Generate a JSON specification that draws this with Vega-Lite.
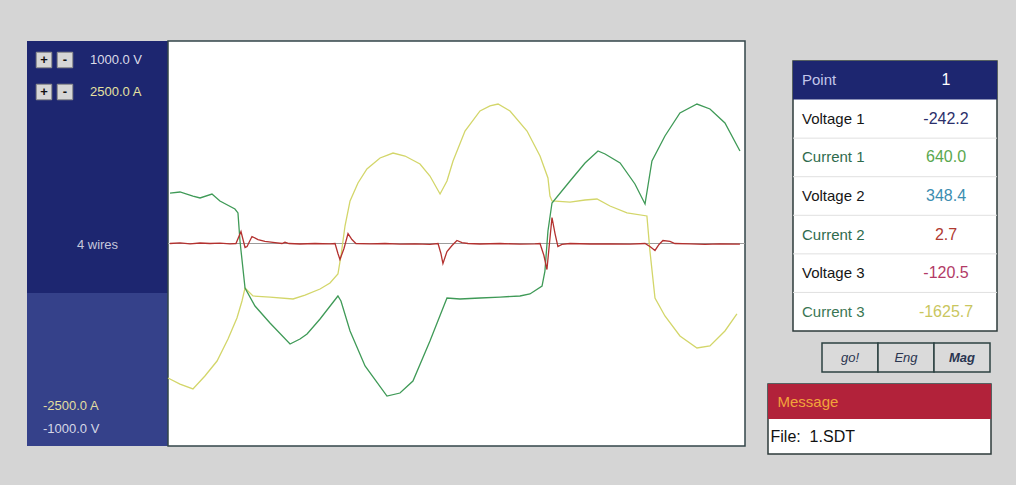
{
  "$schema": "https://vega.github.io/schema/vega-lite/v6.json",
  "background": "#d5d5d5",
  "padding": {"left": 27, "top": 40, "right": 19, "bottom": 32},
  "config": {"view": {"stroke": null}, "font": "Liberation Sans", "text": {"font": "Liberation Sans"}},
  "datasets": {
    "waves": [
      {"t": 0.0, "series": "Current 3", "amps": -1661},
      {"t": 0.83, "series": "Current 3", "amps": -1735},
      {"t": 1.73, "series": "Current 3", "amps": -1796},
      {"t": 2.56, "series": "Current 3", "amps": -1636},
      {"t": 3.40, "series": "Current 3", "amps": -1451},
      {"t": 4.16, "series": "Current 3", "amps": -1179},
      {"t": 4.78, "series": "Current 3", "amps": -920},
      {"t": 5.13, "series": "Current 3", "amps": -710},
      {"t": 5.34, "series": "Current 3", "amps": -549},
      {"t": 5.89, "series": "Current 3", "amps": -648},
      {"t": 7.07, "series": "Current 3", "amps": -661},
      {"t": 8.67, "series": "Current 3", "amps": -685},
      {"t": 9.50, "series": "Current 3", "amps": -636},
      {"t": 10.54, "series": "Current 3", "amps": -562},
      {"t": 11.23, "series": "Current 3", "amps": -488},
      {"t": 11.78, "series": "Current 3", "amps": -377},
      {"t": 11.99, "series": "Current 3", "amps": -154},
      {"t": 12.27, "series": "Current 3", "amps": 216},
      {"t": 12.62, "series": "Current 3", "amps": 525},
      {"t": 13.17, "series": "Current 3", "amps": 747},
      {"t": 13.79, "series": "Current 3", "amps": 920},
      {"t": 14.70, "series": "Current 3", "amps": 1056},
      {"t": 15.60, "series": "Current 3", "amps": 1117},
      {"t": 16.43, "series": "Current 3", "amps": 1080},
      {"t": 17.47, "series": "Current 3", "amps": 981},
      {"t": 18.16, "series": "Current 3", "amps": 833},
      {"t": 18.86, "series": "Current 3", "amps": 611},
      {"t": 19.34, "series": "Current 3", "amps": 772},
      {"t": 19.76, "series": "Current 3", "amps": 1019},
      {"t": 20.59, "series": "Current 3", "amps": 1389},
      {"t": 21.63, "series": "Current 3", "amps": 1636},
      {"t": 22.32, "series": "Current 3", "amps": 1698},
      {"t": 22.88, "series": "Current 3", "amps": 1722},
      {"t": 23.71, "series": "Current 3", "amps": 1636},
      {"t": 24.89, "series": "Current 3", "amps": 1389},
      {"t": 25.79, "series": "Current 3", "amps": 1080},
      {"t": 26.34, "series": "Current 3", "amps": 809},
      {"t": 26.48, "series": "Current 3", "amps": 586},
      {"t": 26.62, "series": "Current 3", "amps": 525},
      {"t": 27.87, "series": "Current 3", "amps": 512},
      {"t": 28.91, "series": "Current 3", "amps": 537},
      {"t": 29.74, "series": "Current 3", "amps": 549},
      {"t": 30.64, "series": "Current 3", "amps": 463},
      {"t": 31.82, "series": "Current 3", "amps": 377},
      {"t": 33.20, "series": "Current 3", "amps": 340},
      {"t": 33.41, "series": "Current 3", "amps": -93},
      {"t": 33.76, "series": "Current 3", "amps": -673},
      {"t": 34.45, "series": "Current 3", "amps": -895},
      {"t": 35.49, "series": "Current 3", "amps": -1142},
      {"t": 36.67, "series": "Current 3", "amps": -1290},
      {"t": 37.57, "series": "Current 3", "amps": -1265},
      {"t": 38.61, "series": "Current 3", "amps": -1080},
      {"t": 39.44, "series": "Current 3", "amps": -870},

      {"t": 0.14, "series": "Current 1", "amps": 623},
      {"t": 0.83, "series": "Current 1", "amps": 636},
      {"t": 1.73, "series": "Current 1", "amps": 586},
      {"t": 2.22, "series": "Current 1", "amps": 562},
      {"t": 3.05, "series": "Current 1", "amps": 611},
      {"t": 3.60, "series": "Current 1", "amps": 525},
      {"t": 4.64, "series": "Current 1", "amps": 426},
      {"t": 4.85, "series": "Current 1", "amps": 377},
      {"t": 4.99, "series": "Current 1", "amps": 31},
      {"t": 5.34, "series": "Current 1", "amps": -549},
      {"t": 6.03, "series": "Current 1", "amps": -772},
      {"t": 7.07, "series": "Current 1", "amps": -981},
      {"t": 8.46, "series": "Current 1", "amps": -1241},
      {"t": 9.15, "series": "Current 1", "amps": -1179},
      {"t": 9.64, "series": "Current 1", "amps": -1117},
      {"t": 10.54, "series": "Current 1", "amps": -932},
      {"t": 11.78, "series": "Current 1", "amps": -648},
      {"t": 11.99, "series": "Current 1", "amps": -710},
      {"t": 12.62, "series": "Current 1", "amps": -1080},
      {"t": 13.66, "series": "Current 1", "amps": -1512},
      {"t": 15.18, "series": "Current 1", "amps": -1883},
      {"t": 16.08, "series": "Current 1", "amps": -1846},
      {"t": 16.98, "series": "Current 1", "amps": -1698},
      {"t": 18.16, "series": "Current 1", "amps": -1204},
      {"t": 19.34, "series": "Current 1", "amps": -673},
      {"t": 20.24, "series": "Current 1", "amps": -685},
      {"t": 21.63, "series": "Current 1", "amps": -673},
      {"t": 23.02, "series": "Current 1", "amps": -661},
      {"t": 24.40, "series": "Current 1", "amps": -648},
      {"t": 25.09, "series": "Current 1", "amps": -623},
      {"t": 25.93, "series": "Current 1", "amps": -525},
      {"t": 26.13, "series": "Current 1", "amps": -340},
      {"t": 26.34, "series": "Current 1", "amps": 154},
      {"t": 26.62, "series": "Current 1", "amps": 500},
      {"t": 27.87, "series": "Current 1", "amps": 772},
      {"t": 28.91, "series": "Current 1", "amps": 994},
      {"t": 29.81, "series": "Current 1", "amps": 1142},
      {"t": 30.30, "series": "Current 1", "amps": 1105},
      {"t": 31.34, "series": "Current 1", "amps": 994},
      {"t": 32.37, "series": "Current 1", "amps": 735},
      {"t": 33.07, "series": "Current 1", "amps": 488},
      {"t": 33.27, "series": "Current 1", "amps": 710},
      {"t": 33.55, "series": "Current 1", "amps": 1019},
      {"t": 34.45, "series": "Current 1", "amps": 1327},
      {"t": 35.49, "series": "Current 1", "amps": 1611},
      {"t": 36.67, "series": "Current 1", "amps": 1722},
      {"t": 37.57, "series": "Current 1", "amps": 1661},
      {"t": 38.61, "series": "Current 1", "amps": 1488},
      {"t": 39.65, "series": "Current 1", "amps": 1142},

      {"t": 0.14, "series": "Current 2", "amps": 0},
      {"t": 0.83, "series": "Current 2", "amps": 8},
      {"t": 1.53, "series": "Current 2", "amps": -5},
      {"t": 2.22, "series": "Current 2", "amps": 6},
      {"t": 2.91, "series": "Current 2", "amps": 0},
      {"t": 3.60, "series": "Current 2", "amps": 5},
      {"t": 4.30, "series": "Current 2", "amps": -4},
      {"t": 4.71, "series": "Current 2", "amps": 0},
      {"t": 5.06, "series": "Current 2", "amps": 148},
      {"t": 5.34, "series": "Current 2", "amps": -49},
      {"t": 5.48, "series": "Current 2", "amps": -37},
      {"t": 5.82, "series": "Current 2", "amps": 86},
      {"t": 6.24, "series": "Current 2", "amps": 49},
      {"t": 6.72, "series": "Current 2", "amps": 25},
      {"t": 7.42, "series": "Current 2", "amps": 12},
      {"t": 7.90, "series": "Current 2", "amps": 0},
      {"t": 8.11, "series": "Current 2", "amps": 15},
      {"t": 8.39, "series": "Current 2", "amps": 0},
      {"t": 9.15, "series": "Current 2", "amps": -6},
      {"t": 10.19, "series": "Current 2", "amps": 0},
      {"t": 11.23, "series": "Current 2", "amps": -5},
      {"t": 11.58, "series": "Current 2", "amps": 0},
      {"t": 11.78, "series": "Current 2", "amps": -123},
      {"t": 11.92, "series": "Current 2", "amps": -198},
      {"t": 12.20, "series": "Current 2", "amps": -62},
      {"t": 12.48, "series": "Current 2", "amps": 123},
      {"t": 12.75, "series": "Current 2", "amps": 49},
      {"t": 13.03, "series": "Current 2", "amps": 0},
      {"t": 14.00, "series": "Current 2", "amps": -5},
      {"t": 15.04, "series": "Current 2", "amps": 0},
      {"t": 16.08, "series": "Current 2", "amps": -8},
      {"t": 17.12, "series": "Current 2", "amps": -4},
      {"t": 18.16, "series": "Current 2", "amps": -10},
      {"t": 18.72, "series": "Current 2", "amps": 0},
      {"t": 18.92, "series": "Current 2", "amps": -123},
      {"t": 19.06, "series": "Current 2", "amps": -247},
      {"t": 19.34, "series": "Current 2", "amps": -99},
      {"t": 19.69, "series": "Current 2", "amps": -25},
      {"t": 20.03, "series": "Current 2", "amps": 37},
      {"t": 20.38, "series": "Current 2", "amps": 12},
      {"t": 20.80, "series": "Current 2", "amps": 0},
      {"t": 21.63, "series": "Current 2", "amps": -6},
      {"t": 23.02, "series": "Current 2", "amps": 0},
      {"t": 24.40, "series": "Current 2", "amps": -8},
      {"t": 25.44, "series": "Current 2", "amps": -4},
      {"t": 25.79, "series": "Current 2", "amps": 0},
      {"t": 26.06, "series": "Current 2", "amps": -148},
      {"t": 26.27, "series": "Current 2", "amps": -321},
      {"t": 26.41, "series": "Current 2", "amps": -62},
      {"t": 26.62, "series": "Current 2", "amps": 321},
      {"t": 26.83, "series": "Current 2", "amps": 123},
      {"t": 27.03, "series": "Current 2", "amps": -37},
      {"t": 27.31, "series": "Current 2", "amps": -12},
      {"t": 27.87, "series": "Current 2", "amps": 0},
      {"t": 29.25, "series": "Current 2", "amps": -6},
      {"t": 30.64, "series": "Current 2", "amps": -4},
      {"t": 32.03, "series": "Current 2", "amps": -8},
      {"t": 33.07, "series": "Current 2", "amps": 0},
      {"t": 33.41, "series": "Current 2", "amps": -37},
      {"t": 33.76, "series": "Current 2", "amps": -86},
      {"t": 34.04, "series": "Current 2", "amps": -12},
      {"t": 34.31, "series": "Current 2", "amps": 37},
      {"t": 34.80, "series": "Current 2", "amps": 25},
      {"t": 35.14, "series": "Current 2", "amps": 0},
      {"t": 36.18, "series": "Current 2", "amps": -5},
      {"t": 37.23, "series": "Current 2", "amps": -10},
      {"t": 38.26, "series": "Current 2", "amps": -4},
      {"t": 39.65, "series": "Current 2", "amps": -8}
    ]
  },
  "spacing": 20,
  "hconcat": [
    {
      "bounds": "flush",
      "spacing": 0,
      "hconcat": [
        {
          "width": 141,
          "height": 405,
          "view": {"fill": "#1d2670", "stroke": null},
          "layer": [
            {
              "data": {"values": [{"zone": "lower"}]},
              "mark": {"type": "rect", "color": "#35418a"},
              "encoding": {
                "y": {"datum": -611, "type": "quantitative", "scale": {"domain": [-2500, 2500], "nice": false}, "axis": null},
                "y2": {"datum": -2500}
              }
            },
            {
              "data": {"values": [{"btn": "+"}]},
              "mark": {"type": "point", "shape": "square", "size": 240, "filled": true, "color": "#d6d6d6", "stroke": "#8c8c8c", "strokeWidth": 1, "opacity": 1, "xOffset": -53.5, "yOffset": 19},
              "encoding": {"y": {"datum": 2500, "type": "quantitative"}}
            },
            {
              "data": {"values": [{"btn": "-"}]},
              "mark": {"type": "point", "shape": "square", "size": 240, "filled": true, "color": "#d6d6d6", "stroke": "#8c8c8c", "strokeWidth": 1, "opacity": 1, "xOffset": -32.5, "yOffset": 19},
              "encoding": {"y": {"datum": 2500, "type": "quantitative"}}
            },
            {
              "data": {"values": [{"btn": "+"}]},
              "mark": {"type": "point", "shape": "square", "size": 240, "filled": true, "color": "#d6d6d6", "stroke": "#8c8c8c", "strokeWidth": 1, "opacity": 1, "xOffset": -53.5, "yOffset": 51},
              "encoding": {"y": {"datum": 2500, "type": "quantitative"}}
            },
            {
              "data": {"values": [{"btn": "-"}]},
              "mark": {"type": "point", "shape": "square", "size": 240, "filled": true, "color": "#d6d6d6", "stroke": "#8c8c8c", "strokeWidth": 1, "opacity": 1, "xOffset": -32.5, "yOffset": 51},
              "encoding": {"y": {"datum": 2500, "type": "quantitative"}}
            },
            {
              "data": {"values": [{"btn": "+"}]},
              "mark": {"type": "text", "fontSize": 13, "fontWeight": "bold", "color": "#111111", "dx": -53.5, "dy": 19},
              "encoding": {"y": {"datum": 2500, "type": "quantitative"}, "text": {"field": "btn"}}
            },
            {
              "data": {"values": [{"btn": "-"}]},
              "mark": {"type": "text", "fontSize": 13, "fontWeight": "bold", "color": "#111111", "dx": -32.5, "dy": 19},
              "encoding": {"y": {"datum": 2500, "type": "quantitative"}, "text": {"field": "btn"}}
            },
            {
              "data": {"values": [{"btn": "+"}]},
              "mark": {"type": "text", "fontSize": 13, "fontWeight": "bold", "color": "#111111", "dx": -53.5, "dy": 51},
              "encoding": {"y": {"datum": 2500, "type": "quantitative"}, "text": {"field": "btn"}}
            },
            {
              "data": {"values": [{"btn": "-"}]},
              "mark": {"type": "text", "fontSize": 13, "fontWeight": "bold", "color": "#111111", "dx": -32.5, "dy": 51},
              "encoding": {"y": {"datum": 2500, "type": "quantitative"}, "text": {"field": "btn"}}
            },
            {
              "data": {"values": [{"label": "1000.0 V"}]},
              "mark": {"type": "text", "align": "left", "dx": -7.5, "dy": 19, "fontSize": 13, "color": "#dcdce8"},
              "encoding": {"y": {"datum": 2500, "type": "quantitative"}, "text": {"field": "label"}}
            },
            {
              "data": {"values": [{"label": "2500.0 A"}]},
              "mark": {"type": "text", "align": "left", "dx": -7.5, "dy": 51, "fontSize": 13, "color": "#e6e2a0"},
              "encoding": {"y": {"datum": 2500, "type": "quantitative"}, "text": {"field": "label"}}
            },
            {
              "data": {"values": [{"label": "4 wires"}]},
              "mark": {"type": "text", "align": "center", "dy": 1, "fontSize": 13, "color": "#c6c8dc"},
              "encoding": {"y": {"datum": 0, "type": "quantitative"}, "text": {"field": "label"}}
            },
            {
              "data": {"values": [{"label": "-2500.0 A"}]},
              "mark": {"type": "text", "align": "left", "dx": -54.5, "dy": -40, "fontSize": 13, "color": "#e2dea0"},
              "encoding": {"y": {"datum": -2500, "type": "quantitative"}, "text": {"field": "label"}}
            },
            {
              "data": {"values": [{"label": "-1000.0 V"}]},
              "mark": {"type": "text", "align": "left", "dx": -54.5, "dy": -17, "fontSize": 13, "color": "#d6d8e6"},
              "encoding": {"y": {"datum": -2500, "type": "quantitative"}, "text": {"field": "label"}}
            }
          ]
        },
        {
          "width": 577,
          "height": 405,
          "view": {"fill": "white", "stroke": "#33464a", "strokeWidth": 1.5},
          "layer": [
            {
              "data": {"values": [{"level": "zero"}]},
              "mark": {"type": "rule", "color": "#9c9c9c", "strokeWidth": 1.2},
              "encoding": {
                "y": {"datum": 0, "type": "quantitative", "scale": {"domain": [-2500, 2500], "nice": false}, "axis": null}
              }
            },
            {
              "data": {"name": "waves"},
              "mark": {"type": "line", "strokeWidth": 1.3},
              "encoding": {
                "x": {"field": "t", "type": "quantitative", "scale": {"domain": [0, 40], "nice": false}, "axis": null},
                "y": {"field": "amps", "type": "quantitative"},
                "color": {
                  "field": "series",
                  "type": "nominal",
                  "scale": {"domain": ["Current 1", "Current 2", "Current 3"], "range": ["#3f9a57", "#b3312f", "#d3d66a"]},
                  "legend": null
                }
              }
            }
          ]
        }
      ]
    },
    {
      "spacing": 10,
      "vconcat": [
        {"width": 4, "height": 9, "data": {"values": [{}]}, "mark": {"type": "point", "opacity": 0}, "encoding": {}},
        {
          "bounds": "flush",
          "spacing": 0,
          "hconcat": [
            {"width": 25, "height": 4, "data": {"values": [{}]}, "mark": {"type": "point", "opacity": 0}, "encoding": {}},
            {
              "width": 204,
              "height": 270,
              "view": {"fill": "white", "stroke": "#2e3b3b", "strokeWidth": 1.5},
              "data": {
                "values": [
                  {"row": "Point", "value": "1"},
                  {"row": "Voltage 1", "value": "-242.2"},
                  {"row": "Current 1", "value": "640.0"},
                  {"row": "Voltage 2", "value": "348.4"},
                  {"row": "Current 2", "value": "2.7"},
                  {"row": "Voltage 3", "value": "-120.5"},
                  {"row": "Current 3", "value": "-1625.7"}
                ]
              },
              "encoding": {
                "y": {
                  "field": "row",
                  "type": "nominal",
                  "sort": null,
                  "scale": {"domain": ["Point", "Voltage 1", "Current 1", "Voltage 2", "Current 2", "Voltage 3", "Current 3"], "paddingInner": 0, "paddingOuter": 0},
                  "axis": null
                }
              },
              "layer": [
                {
                  "transform": [{"filter": "datum.row === 'Point'"}],
                  "mark": {"type": "rect", "color": "#1d2670"}
                },
                {
                  "transform": [{"filter": "datum.row !== 'Point' && datum.row !== 'Voltage 1'"}],
                  "mark": {"type": "rule", "color": "#e0e0e0", "strokeWidth": 1},
                  "encoding": {"y": {"field": "row", "type": "nominal", "bandPosition": 0}}
                },
                {
                  "mark": {"type": "text", "align": "left", "dx": -42, "fontSize": 15},
                  "encoding": {
                    "x": {"datum": "name", "type": "nominal", "scale": {"domain": ["name", "value"], "paddingInner": 0, "paddingOuter": 0}, "axis": null},
                    "text": {"field": "row"},
                    "color": {
                      "field": "row",
                      "type": "nominal",
                      "scale": {"domain": ["Point", "Voltage 1", "Current 1", "Voltage 2", "Current 2", "Voltage 3", "Current 3"], "range": ["#c3c6ea", "#161616", "#2f6b4d", "#161616", "#2f6b4d", "#161616", "#3a7653"]},
                      "legend": null
                    }
                  }
                },
                {
                  "mark": {"type": "text", "align": "center", "fontSize": 16},
                  "encoding": {
                    "x": {"datum": "value", "type": "nominal"},
                    "text": {"field": "value"},
                    "color": {
                      "field": "row",
                      "type": "nominal",
                      "scale": {"domain": ["Point", "Voltage 1", "Current 1", "Voltage 2", "Current 2", "Voltage 3", "Current 3"], "range": ["#ffffff", "#2b2f6b", "#5aa84e", "#3b8db0", "#b03a30", "#b23a66", "#c9c65e"]},
                      "legend": null
                    }
                  }
                }
              ],
              "resolve": {"scale": {"color": "independent"}}
            }
          ]
        },
        {
          "bounds": "flush",
          "spacing": 0,
          "hconcat": [
            {"width": 54, "height": 4, "data": {"values": [{}]}, "mark": {"type": "point", "opacity": 0}, "encoding": {}},
            {
              "width": 168,
              "height": 29,
              "data": {"values": [{"btn": "go!"}, {"btn": "Eng"}, {"btn": "Mag"}]},
              "encoding": {
                "x": {"field": "btn", "type": "nominal", "sort": null, "scale": {"domain": ["go!", "Eng", "Mag"], "paddingInner": 0, "paddingOuter": 0}, "axis": null}
              },
              "layer": [
                {"mark": {"type": "rect", "fill": "#dadada", "stroke": "#2c4242", "strokeWidth": 1.5}},
                {
                  "transform": [{"filter": "datum.btn !== 'Mag'"}],
                  "mark": {"type": "text", "fontStyle": "italic", "fontSize": 13, "color": "#2a3550"},
                  "encoding": {"text": {"field": "btn"}}
                },
                {
                  "transform": [{"filter": "datum.btn === 'Mag'"}],
                  "mark": {"type": "text", "fontStyle": "italic", "fontWeight": "bold", "fontSize": 13, "color": "#2a3550"},
                  "encoding": {"text": {"field": "btn"}}
                }
              ]
            }
          ]
        },
        {
          "width": 223,
          "height": 70,
          "view": {"fill": "white", "stroke": "#2e3b3b", "strokeWidth": 1.5},
          "data": {"values": [{"part": "header", "text": "Message"}, {"part": "body", "text": "File:\u00a0 1.SDT"}]},
          "encoding": {
            "y": {"field": "part", "type": "nominal", "sort": null, "scale": {"domain": ["header", "body"], "paddingInner": 0, "paddingOuter": 0}, "axis": null}
          },
          "layer": [
            {"transform": [{"filter": "datum.part === 'header'"}], "mark": {"type": "rect", "color": "#b2223a"}},
            {
              "transform": [{"filter": "datum.part === 'header'"}],
              "mark": {"type": "text", "align": "left", "dx": -102, "fontSize": 15, "color": "#f2a43a"},
              "encoding": {"text": {"field": "text"}}
            },
            {
              "transform": [{"filter": "datum.part === 'body'"}],
              "mark": {"type": "text", "align": "left", "dx": -109, "fontSize": 16, "color": "#111111"},
              "encoding": {"text": {"field": "text"}}
            }
          ]
        }
      ]
    }
  ]
}
